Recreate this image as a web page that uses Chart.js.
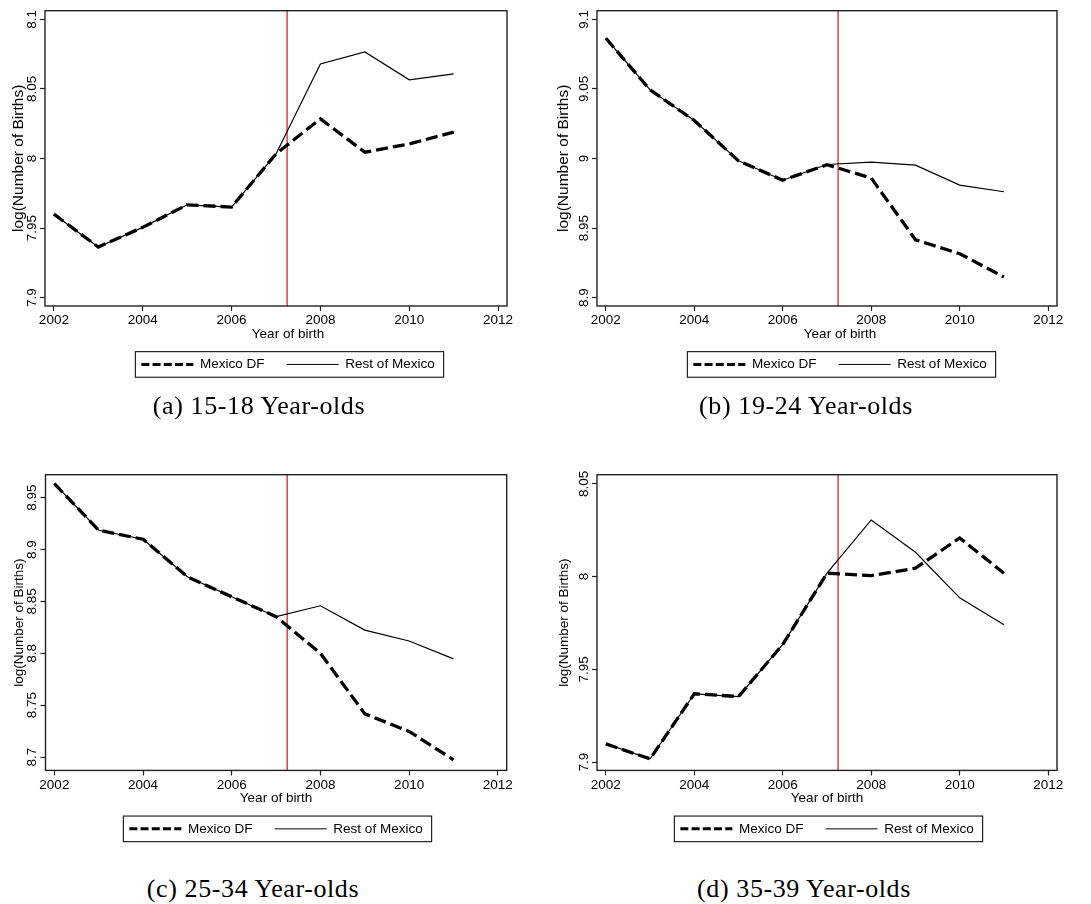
<!DOCTYPE html>
<html lang="en">
<head>
  <meta charset="UTF-8">
  <title>log(Number of Births) by age group</title>
  <script src="https://cdn.jsdelivr.net/npm/chart.js"></script>
  <style>
    html, body { margin: 0; padding: 0; background: #fff; overflow: hidden; }
    body { width: 1091px; height: 904px; position: relative; }
    canvas.panel { position: absolute; }
    .caption {
      position: absolute; width: 400px; text-align: center;
      font-family: "Liberation Serif", "Times New Roman", serif;
      font-size: 26px; letter-spacing: 0.6px; line-height: 30px; color: #000;
    }
  </style>
</head>
<body>
  <canvas id="chartA" class="panel"></canvas>
  <canvas id="chartB" class="panel"></canvas>
  <canvas id="chartC" class="panel"></canvas>
  <canvas id="chartD" class="panel"></canvas>

  <div class="caption" style="left:59px; top:391px;">(a) 15-18 Year-olds</div>
  <div class="caption" style="left:606px; top:391px;">(b) 19-24 Year-olds</div>
  <div class="caption" style="left:53px; top:874px;">(c) 25-34 Year-olds</div>
  <div class="caption" style="left:604px; top:874px;">(d) 35-39 Year-olds</div>

  <script>
    // data
    const years = [2002, 2003, 2004, 2005, 2006, 2007, 2008, 2009, 2010, 2011];
    const xTicks = [2002, 2004, 2006, 2008, 2010, 2012];
    const cutoffYear = 2007.25;
    const seriesNames = ['Mexico DF', 'Rest of Mexico'];

    // (a) 15-18
    const dfA = [7.960, 7.9364, 7.9505, 7.9667, 7.9651, 8.0033, 8.0285, 8.0045, 8.0105, 8.0189];
    const restA = [7.960, 7.9364, 7.9505, 7.9667, 7.9651, 8.0033, 8.0679, 8.0766, 8.0565, 8.0608];
    const yTicksA = [7.9, 7.95, 8, 8.05, 8.1];

    // (b) 19-24
    const dfB = [9.0864, 9.0493, 9.0273, 8.9983, 8.9844, 8.9955, 8.9859, 8.9416, 8.9316, 8.9148];
    const restB = [9.0864, 9.0493, 9.0273, 8.9983, 8.9844, 8.9957, 8.9974, 8.9952, 8.9809, 8.9761];
    const yTicksB = [8.9, 8.95, 9, 9.05, 9.1];

    // (c) 25-34
    const dfC = [8.9635, 8.9186, 8.9099, 8.8737, 8.8545, 8.8353, 8.8000, 8.7417, 8.7247, 8.6974];
    const restC = [8.9635, 8.9186, 8.9099, 8.8737, 8.8545, 8.8353, 8.8458, 8.8224, 8.8119, 8.7946];
    const yTicksC = [8.7, 8.75, 8.8, 8.85, 8.9, 8.95];

    // (d) 35-39
    const dfD = [7.9098, 7.9017, 7.9368, 7.9353, 7.9634, 8.0018, 8.0005, 8.0045, 8.0208, 8.0018];
    const restD = [7.9098, 7.9017, 7.9368, 7.9353, 7.9634, 8.0018, 8.0305, 8.0131, 7.9885, 7.9740];
    const yTicksD = [7.9, 7.95, 8, 8.05];

    Chart.defaults.font.family = "'Liberation Sans', Arial, sans-serif";
    Chart.defaults.font.size = 13.5;
    Chart.defaults.color = '#000';

    // page layout of each panel (canvas spot, axis widths, value range)
    const panels = [
      { id: 'chartA', df: dfA, rest: restA, yTicks: yTicksA, yMin: 7.894, yMax: 8.1062,
        left: 0, top: 0, yw: 45, plotRight: 507, width: 576, plotBottom: 306, yTitleSize: 15.5 },
      { id: 'chartB', df: dfB, rest: restB, yTicks: yTicksB, yMin: 8.894, yMax: 9.1062,
        left: 545, top: 0, yw: 52, plotRight: 512, width: 590, plotBottom: 306, yTitleSize: 15.5 },
      { id: 'chartC', df: dfC, rest: restC, yTicks: yTicksC, yMin: 8.6872, yMax: 8.9721,
        left: 0, top: 463.6, yw: 45.5, plotRight: 506.7, width: 552, plotBottom: 306.4, yTitleSize: 13.5 },
      { id: 'chartD', df: dfD, rest: restD, yTicks: yTicksD, yMin: 7.8955, yMax: 8.0549,
        left: 545, top: 463.6, yw: 52, plotRight: 512, width: 564, plotBottom: 306.4, yTitleSize: 13.5 }
    ];

    const PAD_TOP = 10.7;
    const X_H = 20;
    const TITLE_H = 13.5 * 1.2 - 6.5;
    const LEGEND_PAD = 22;
    const LEGEND_H = 13.5 + LEGEND_PAD + 10;
    const CANVAS_H = 392;

    // red cutoff line, plot frame and legend frame
    const framePlugin = {
      id: 'frame',
      beforeDatasetsDraw(chart) {
        const {ctx, chartArea, scales} = chart;
        const x = scales.x.getPixelForValue(cutoffYear);
        ctx.save();
        ctx.strokeStyle = 'rgb(232, 30, 36)';
        ctx.lineWidth = 1.3;
        ctx.beginPath();
        ctx.moveTo(x, chartArea.top);
        ctx.lineTo(x, chartArea.bottom);
        ctx.stroke();
        ctx.restore();
      },
      afterDraw(chart) {
        const {ctx, chartArea} = chart;
        ctx.save();
        ctx.strokeStyle = '#222';
        ctx.lineWidth = 1.4;
        ctx.strokeRect(chartArea.left, chartArea.top, chartArea.right - chartArea.left, chartArea.bottom - chartArea.top);
        const hb = chart.legend.legendHitBoxes;
        if (hb && hb.length) {
          const last = hb[hb.length - 1];
          const l = hb[0].left - 6;
          const r = last.left + last.width + 9;
          const cy = hb[0].top + 13.5 / 2;
          ctx.lineWidth = 1.1;
          ctx.strokeStyle = '#111';
          ctx.strokeRect(l, cy - 12.8, r - l, 25.6);
        }
        ctx.restore();
      }
    };

    function buildChart(p) {
      const canvas = document.getElementById(p.id);
      canvas.width = p.width;
      canvas.height = CANVAS_H;
      canvas.style.left = p.left + 'px';
      canvas.style.top = p.top + 'px';

      const pts = arr => years.map((yr, i) => ({ x: yr, y: arr[i] }));
      const padBottom = CANVAS_H - p.plotBottom - X_H - TITLE_H - LEGEND_H;

      return new Chart(canvas, {
        type: 'line',
        data: {
          datasets: [{
            label: seriesNames[0],
            data: pts(p.df),
            borderColor: '#000',
            borderWidth: 3.3,
            borderDash: [12, 5],
            pointRadius: 0,
            tension: 0
          }, {
            label: seriesNames[1],
            data: pts(p.rest),
            borderColor: '#000',
            borderWidth: 1.2,
            pointRadius: 0,
            tension: 0
          }]
        },
        options: {
          responsive: false,
          animation: false,
          events: [],
          layout: {
            autoPadding: false,
            padding: { top: PAD_TOP, left: 0, right: 0, bottom: padBottom }
          },
          scales: {
            x: {
              type: 'linear',
              min: 2001.8,
              max: 2012.2,
              afterBuildTicks: axis => { axis.ticks = xTicks.map(v => ({ value: v })); },
              afterFit: axis => { axis.height = X_H; axis.paddingLeft = 0; axis.paddingRight = 0; },
              ticks: {
                padding: 1.5,
                maxRotation: 0,
                autoSkip: false,
                callback: value => String(value)
              },
              grid: { drawOnChartArea: false, tickLength: 5, tickColor: '#222', tickWidth: 1.2 },
              border: { display: false }
            },
            y: {
              type: 'linear',
              min: p.yMin,
              max: p.yMax,
              afterBuildTicks: axis => { axis.ticks = p.yTicks.map(v => ({ value: v })); },
              afterFit: axis => { axis.width = p.yw; axis.paddingTop = 0; axis.paddingBottom = 0; },
              ticks: {
                minRotation: 90,
                maxRotation: 90,
                crossAlign: 'center',
                padding: -5,
                autoSkip: false,
                callback: value => String(+value.toFixed(2))
              },
              title: {
                display: true,
                text: 'log(Number of Births)',
                font: { size: p.yTitleSize },
                padding: { top: 11 - (p.yTitleSize - 13.5) * 0.6, bottom: 0 }
              },
              grid: { drawOnChartArea: false, tickLength: 5, tickColor: '#222', tickWidth: 1.2 },
              border: { display: false }
            },
            y2: {
              type: 'linear',
              position: 'right',
              ticks: { display: false },
              grid: { display: false },
              border: { display: false },
              afterFit: axis => { axis.width = p.width - p.plotRight; }
            }
          },
          plugins: {
            title: {
              display: true,
              text: 'Year of birth',
              position: 'bottom',
              weight: 500,
              color: '#000',
              font: { size: 13.5, weight: 'normal' },
              padding: { top: 0, bottom: -6.5 }
            },
            legend: {
              display: true,
              position: 'bottom',
              labels: {
                usePointStyle: true,
                pointStyleWidth: 52,
                padding: LEGEND_PAD,
                color: '#000',
                generateLabels: () => [
                  { text: seriesNames[0], pointStyle: 'line', strokeStyle: '#000', fillStyle: '#000',
                    lineWidth: 3, lineDash: [8, 3.2], datasetIndex: 0 },
                  { text: seriesNames[1], pointStyle: 'line', strokeStyle: '#000', fillStyle: '#000',
                    lineWidth: 1, lineDash: [], datasetIndex: 1 }
                ]
              }
            },
            tooltip: { enabled: false }
          }
        },
        plugins: [framePlugin]
      });
    }

    panels.forEach(buildChart);
  </script>
</body>
</html>
